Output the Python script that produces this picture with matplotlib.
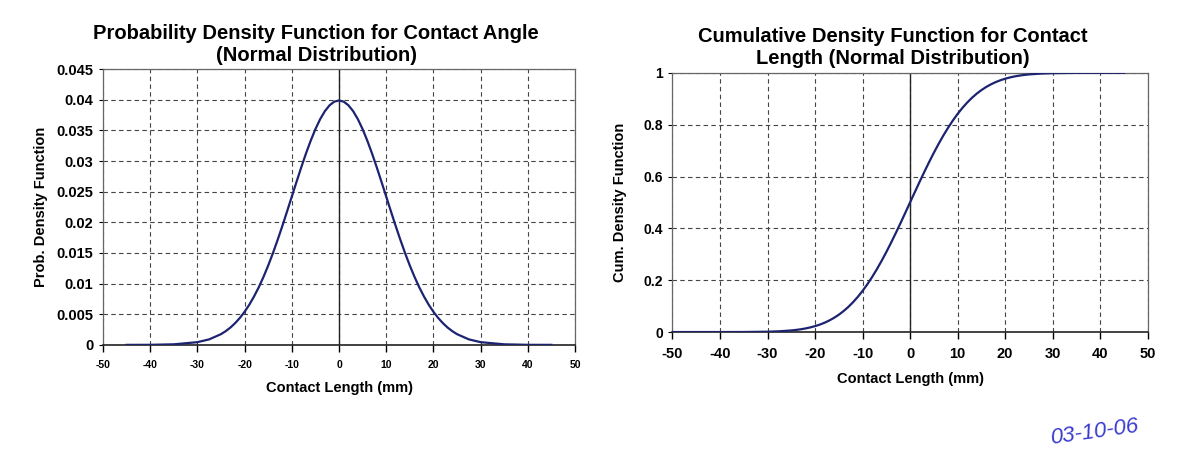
import numpy as np
import matplotlib
matplotlib.use("Agg")
import matplotlib.pyplot as plt

plt.rcParams['font.family'] = ['Liberation Sans', 'DejaVu Sans']

# PDF values
pdf_x = [-45, -40, -35, -30, -27.5,
         -25, -24, -23, -22, -21, -20, -19, -18, -17, -16, -15, -14, -13, -12, -11,
         -10, -9, -8, -7, -6, -5, -4, -3, -2, -1, 0, 1, 2, 3, 4, 5, 6, 7, 8, 9,
         10, 11, 12, 13, 14, 15, 16, 17, 18, 19, 20, 21, 22, 23, 24, 25,
         27.5, 30, 35, 40, 45]
pdf_y = [0.0, 0.00001, 0.00009, 0.00044, 0.0009,
         0.00175, 0.00224, 0.00283, 0.00355, 0.0044, 0.0054, 0.00656, 0.0079,
         0.0094, 0.01109, 0.01295, 0.01497, 0.01714, 0.01942, 0.02179,
         0.0242, 0.02661, 0.02897, 0.03123, 0.03332, 0.03521, 0.03683, 0.03814,
         0.0391, 0.0397, 0.03989, 0.0397, 0.0391, 0.03814, 0.03683, 0.03521,
         0.03332, 0.03123, 0.02897, 0.02661,
         0.0242, 0.02179, 0.01942, 0.01714, 0.01497, 0.01295, 0.01109, 0.0094,
         0.0079, 0.00656, 0.0054, 0.0044, 0.00355, 0.00283, 0.00224, 0.00175,
         0.0009, 0.00044, 0.00009, 0.00001, 0.0]

# CDF values
cdf_x = [-50, -45, -40, -35, -30, -27.5,
         -25, -24, -23, -22, -21, -20, -19, -18, -17, -16, -15, -14, -13, -12, -11,
         -10, -9, -8, -7, -6, -5, -4, -3, -2, -1, 0, 1, 2, 3, 4, 5, 6, 7, 8, 9,
         10, 11, 12, 13, 14, 15, 16, 17, 18, 19, 20, 21, 22, 23, 24, 25,
         27.5, 30, 35, 40, 45]
cdf_y = [0.0, 0.0, 0.00003, 0.0002, 0.0013, 0.003,
         0.0062, 0.0082, 0.0107, 0.0139, 0.0179, 0.0228, 0.0287, 0.0359, 0.0446,
         0.0548, 0.0668, 0.0808, 0.0968, 0.1151, 0.1357,
         0.1587, 0.1841, 0.2119, 0.242, 0.2743, 0.3085, 0.3446, 0.3821, 0.4207,
         0.4602, 0.5, 0.5398, 0.5793, 0.6179, 0.6554, 0.6915, 0.7257, 0.758,
         0.7881, 0.8159,
         0.8413, 0.8643, 0.8849, 0.9032, 0.9192, 0.9332, 0.9452, 0.9554, 0.9641,
         0.9713, 0.9772, 0.9821, 0.9861, 0.9893, 0.9918, 0.9938,
         0.997, 0.9987, 0.9998, 1.0, 1.0]

x_ticks = [-50, -40, -30, -20, -10, 0, 10, 20, 30, 40, 50]
pdf_ticks = [0, 0.005, 0.01, 0.015, 0.02, 0.025, 0.03, 0.035, 0.04, 0.045]
pdf_labels = ['0', '0.005', '0.01', '0.015', '0.02', '0.025', '0.03', '0.035', '0.04', '0.045']
cdf_ticks = [0, 0.2, 0.4, 0.6, 0.8, 1.0]
cdf_labels = ['0', '0.2', '0.4', '0.6', '0.8', '1']

line_col = '#1c2370'
grid_col = '#444444'

fig = plt.figure(figsize=(12.03, 4.58), dpi=100)
ax1 = fig.add_axes([0.0856, 0.247, 0.3924, 0.602])
ax2 = fig.add_axes([0.559, 0.275, 0.395, 0.566])


def style_axes(ax, yticks, ylabels, ylim, xfs, yfs):
    ax.set_xlim(-50, 50)
    ax.set_ylim(*ylim)
    ax.set_xticks(x_ticks)
    ax.set_xticklabels([str(t) for t in x_ticks], fontsize=xfs, fontweight='bold')
    ax.set_yticks(yticks)
    ax.set_yticklabels(ylabels, fontsize=yfs, fontweight='bold')
    ax.grid(True, color=grid_col, linestyle=(0, (4, 3)), linewidth=0.8)
    ax.axvline(0, color='#222222', linewidth=1.0, zorder=2)
    for side in ['top', 'right', 'left']:
        ax.spines[side].set_color('#666666')
        ax.spines[side].set_linewidth(0.9)
    ax.spines['bottom'].set_color('#222222')
    ax.spines['bottom'].set_linewidth(1.2)
    ax.tick_params(axis='x', direction='out', length=5, width=1, pad=6)
    ax.tick_params(axis='y', direction='out', length=3, width=0.8, pad=4)


ax1.plot(pdf_x, pdf_y, color=line_col, linewidth=1.6, zorder=3)
style_axes(ax1, pdf_ticks, pdf_labels, (0, 0.045), 7.5, 10.5)
ax1.set_title('Probability Density Function for Contact Angle\n(Normal Distribution)',
              fontsize=14.5, fontweight='bold', pad=6, linespacing=1.2, x=0.452)
ax1.set_xlabel('Contact Length (mm)', fontsize=10.5, fontweight='bold', labelpad=8)
ax1.set_ylabel('Prob. Density Function', fontsize=10.5, fontweight='bold', labelpad=6)

ax2.plot(cdf_x, cdf_y, color=line_col, linewidth=1.6, zorder=3)
style_axes(ax2, cdf_ticks, cdf_labels, (0, 1.0), 10.5, 10)
ax2.set_title('Cumulative Density Function for Contact\nLength (Normal Distribution)',
              fontsize=14.5, fontweight='bold', pad=6, linespacing=1.2, x=0.463)
ax2.set_xlabel('Contact Length (mm)', fontsize=10.5, fontweight='bold', labelpad=8)
ax2.set_ylabel('Cum. Density Function', fontsize=10.5, fontweight='bold', labelpad=12)

# handwritten date in the corner
fig.text(0.91, 0.02, '03-10-06', color='#3a3ad0', fontsize=16,
         fontstyle='italic', ha='center', va='bottom', rotation=8)

fig.savefig('out.png', dpi=100, facecolor='white')
